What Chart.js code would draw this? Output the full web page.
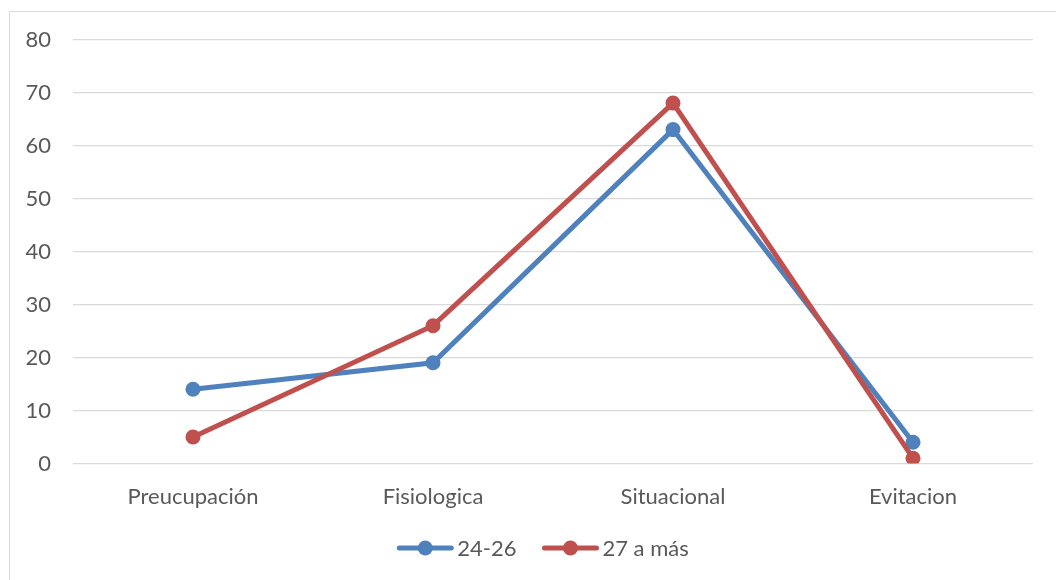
<!DOCTYPE html>
<html>
<head>
<meta charset="utf-8">
<script src="https://cdn.jsdelivr.net/npm/chart.js@4/dist/chart.umd.min.js"></script>
<style>
  html, body { margin: 0; padding: 0; background: #fff; overflow: hidden; }
  #frame { position: absolute; left: 0; top: 0; width: 1056px; height: 580px; }
  #box { position: absolute; left: 9px; top: 11px; width: 1100px; height: 620px; border: 1px solid #d9d9d9; box-sizing: border-box; }
  canvas { position: absolute; left: 0; top: 0; }
</style>
</head>
<body>
<div id="frame">
  <div id="box"></div>
  <canvas id="chart" width="1056" height="580"></canvas>
</div>
<script>
// Categories and series
const categories = ['Preucupación', 'Fisiologica', 'Situacional', 'Evitacion'];
const seriesNames = ['24-26', '27 a más'];
const values2426 = [14, 19, 63, 4];
const values27mas = [5, 26, 68, 1];
const yTicks = [0, 10, 20, 30, 40, 50, 60, 70, 80];

const BLUE = '#4F81BD';
const RED = '#C0504D';
const TEXT = '#595959';
const FONT = 'Lato, "Liberation Sans", sans-serif';

// Legend drawn as line + marker, centred under the plot
const lineLegend = {
  id: 'lineLegend',
  afterDraw(chart) {
    const ctx = chart.ctx;
    const y = 548;
    const lineLen = 56;
    const gapText = 4;
    const gapItem = 26;
    ctx.save();
    ctx.font = '22px ' + FONT;
    const items = chart.data.datasets.slice().sort((a, b) => a.legendIndex - b.legendIndex);
    const widths = items.map(d => lineLen + gapText + ctx.measureText(d.label).width);
    const total = widths.reduce((s, w) => s + w, 0) + gapItem * (items.length - 1);
    let x = 543 - total / 2;
    items.forEach((d, i) => {
      ctx.strokeStyle = d.borderColor;
      ctx.lineWidth = 5;
      ctx.lineCap = 'round';
      ctx.beginPath();
      ctx.moveTo(x + 2, y);
      ctx.lineTo(x + lineLen - 2, y);
      ctx.stroke();
      ctx.fillStyle = d.pointBackgroundColor;
      ctx.beginPath();
      ctx.arc(x + lineLen / 2, y, 7.5, 0, Math.PI * 2);
      ctx.fill();
      ctx.fillStyle = TEXT;
      ctx.textBaseline = 'middle';
      ctx.textAlign = 'left';
      ctx.fillText(d.label, x + lineLen + gapText, y + 1);
      x += widths[i] + gapItem;
    });
    ctx.restore();
  }
};

new Chart(document.getElementById('chart'), {
  type: 'line',
  data: {
    labels: categories,
    datasets: [
      {
        label: seriesNames[0],
        data: values2426,
        legendIndex: 0,
        order: 1,
        borderColor: BLUE,
        backgroundColor: BLUE,
        pointBackgroundColor: BLUE,
        pointBorderColor: BLUE,
        borderWidth: 5,
        pointRadius: 7.5,
        pointBorderWidth: 0,
        tension: 0,
        fill: false
      },
      {
        label: seriesNames[1],
        data: values27mas,
        legendIndex: 1,
        order: 0,
        borderColor: RED,
        backgroundColor: RED,
        pointBackgroundColor: RED,
        pointBorderColor: RED,
        borderWidth: 5,
        pointRadius: 7.5,
        pointBorderWidth: 0,
        tension: 0,
        fill: false
      }
    ]
  },
  options: {
    responsive: false,
    animation: false,
    layout: { padding: { left: 0, right: 23, top: 39.5, bottom: 41.5 } },
    plugins: {
      legend: { display: false },
      tooltip: { enabled: false }
    },
    scales: {
      x: {
        offset: true,
        grid: { display: false, drawTicks: false },
        border: { display: false },
        ticks: { color: TEXT, font: { family: FONT, size: 22 }, padding: 20, maxRotation: 0 },
        afterFit(scale) { scale.height = 75; }
      },
      y: {
        min: 0,
        max: 80,
        afterBuildTicks(scale) { scale.ticks = yTicks.map(v => ({ value: v })); },
        grid: { color: '#d9d9d9', lineWidth: 1.3, drawTicks: false },
        border: { display: false },
        ticks: { color: TEXT, font: { family: FONT, size: 22 }, padding: 22 },
        afterFit(scale) { scale.width = 73; }
      }
    }
  },
  plugins: [lineLegend]
});
</script>
</body>
</html>
